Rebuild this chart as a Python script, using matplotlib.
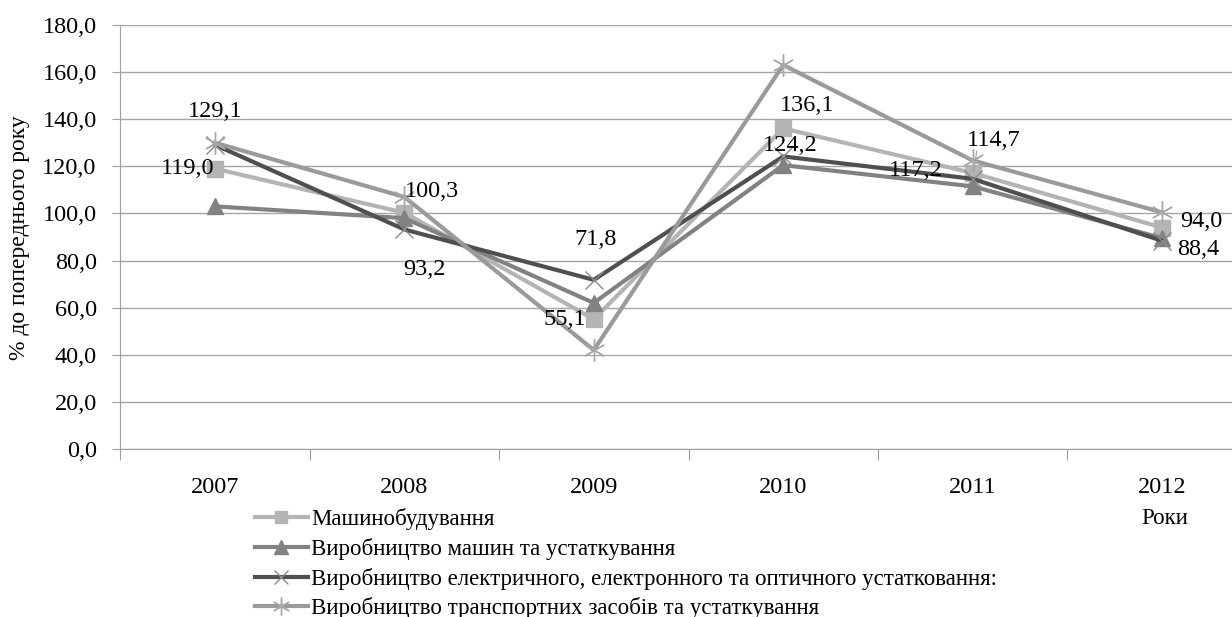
import matplotlib
matplotlib.use("Agg")
import matplotlib.pyplot as plt
from matplotlib.ticker import FixedLocator, FuncFormatter

plt.rcParams['font.family'] = ['Liberation Serif', 'DejaVu Serif']

years = ['2007', '2008', '2009', '2010', '2011', '2012']
mashynobuduvannia = [119.0, 100.3, 55.1, 136.1, 117.2, 94.0]
mashyny_ustatkuvannia = [103.0, 98.0, 62.0, 120.5, 111.5, 89.5]
elektrychne = [129.1, 93.2, 71.8, 124.2, 114.7, 88.4]
transport = [130.0, 107.0, 42.0, 163.0, 122.5, 100.5]

series_names = [
    'Машинобудування',
    'Виробництво машин та устаткування',
    'Виробництво електричного, електронного та оптичного устатковання:',
    'Виробництво транспортних засобів та устаткування',
]

W, H = 1232, 617
fig = plt.figure(figsize=(W / 100, H / 100), dpi=100)
ax = fig.add_axes([120.3 / W, 1 - 449 / H, 1136.4 / W, 424 / H])

x = list(range(len(years)))
fs_num = 17.5
fs_leg = 16.5

l1, = ax.plot(x, mashynobuduvannia, color='#b4b4b4', lw=3, marker='s', ms=11,
              mfc='#b4b4b4', mec='#b4b4b4', zorder=3)
l2, = ax.plot(x, mashyny_ustatkuvannia, color='#828282', lw=3, marker='^', ms=12,
              mfc='#828282', mec='#828282', zorder=3)
l3, = ax.plot(x, elektrychne, color='#4f4f4f', lw=3, marker='x', ms=13,
              mec='#8a8a8a', mew=1, zorder=3)
l4, = ax.plot(x, transport, color='#9a9a9a', lw=3, marker=(6, 2, 0), ms=16,
              mec='#a8a8a8', mew=1, zorder=3)

ax.set_xlim(-0.5, len(years) - 0.5)
ax.set_ylim(0, 180)
ax.set_yticks([i * 20 for i in range(10)])
ax.yaxis.set_major_formatter(FuncFormatter(lambda v, p: f"{v:.1f}".replace('.', ',')))
ax.grid(axis='y', color='#a6a6a6', lw=1)
ax.set_axisbelow(True)

# category ticks at the borders, year labels centred on the categories
ax.xaxis.set_major_locator(FixedLocator([i - 0.5 for i in range(len(years))]))
ax.xaxis.set_major_formatter(FuncFormatter(lambda v, p: ''))
ax.set_xticks(x, minor=True)
ax.set_xticklabels(years, minor=True)
ax.tick_params(axis='x', which='minor', length=0, pad=20, labelsize=fs_num)
ax.tick_params(axis='x', which='major', length=8, color='#a0a0a0', direction='out')
ax.tick_params(axis='y', length=6, color='#a0a0a0', direction='out', pad=11,
               labelsize=fs_num)

for s in ['top', 'right']:
    ax.spines[s].set_visible(False)
for s in ['left', 'bottom']:
    ax.spines[s].set_color('#a0a0a0')

fig.text(20 / W, 1 - 238 / H, '% до попереднього року', rotation=90,
         ha='center', va='center', fontsize=17)
fig.text(1165 / W, 1 - 519 / H, 'Роки', ha='center', va='center', fontsize=fs_leg)


def fmt(v):
    return f"{v:.1f}".replace('.', ',')


# value labels: (series, index, dx px, dy px, ha)
label_spec = [
    (mashynobuduvannia, 0, -1, 0, 'right'),
    (mashynobuduvannia, 1, 0, 21, 'left'),
    (mashynobuduvannia, 2, -8, 0, 'right'),
    (mashynobuduvannia, 3, -3, 23, 'left'),
    (mashynobuduvannia, 4, -30, 2, 'right'),
    (mashynobuduvannia, 5, 18, 6, 'left'),
    (elektrychne, 0, 0, 33, 'center'),
    (elektrychne, 1, 20, -40, 'center'),
    (elektrychne, 2, 2, 40, 'center'),
    (elektrychne, 3, 7, 11, 'center'),
    (elektrychne, 4, 21, 38, 'center'),
    (elektrychne, 5, 15, -9, 'left'),
]
for ser, i, dx, dy, ha in label_spec:
    ax.annotate(fmt(ser[i]), (x[i], ser[i]), xytext=(dx * 0.72, dy * 0.72),
                textcoords='offset points', ha=ha, va='center', fontsize=fs_num,
                zorder=5)

# leader line for the 2011 label
ax.annotate('', (x[4], elektrychne[4]), xytext=(3, 20), textcoords='offset points',
            arrowprops=dict(arrowstyle='-', color='#a0a0a0', lw=0.8,
                            shrinkA=0, shrinkB=6))

fig.legend([l1, l2, l3, l4], series_names, loc='upper left',
           bbox_to_anchor=(255 / W, 1 - 508 / H), frameon=False, fontsize=fs_leg,
           handlelength=2.3, handletextpad=0.15, labelspacing=0.34,
           borderpad=0, borderaxespad=0, markerscale=0.8)

fig.savefig('out.png', dpi=100)
